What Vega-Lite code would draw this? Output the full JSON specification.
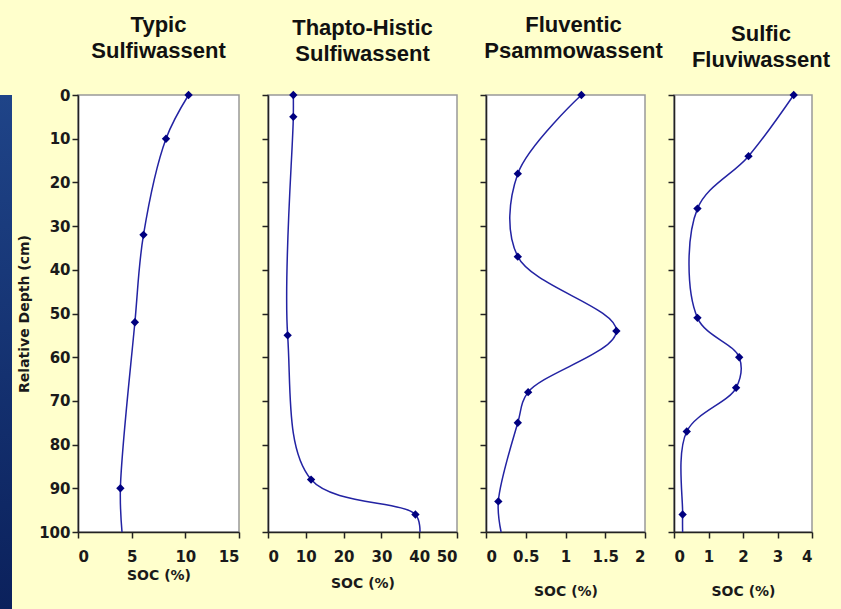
{
  "$schema": "https://vega.github.io/schema/vega-lite/v6.json",
  "background": "#FFFFCC",
  "padding": {"left": 0, "top": 13, "right": 11, "bottom": 0},
  "config": {
    "font": "Liberation Sans",
    "axis": {
      "labelFont": "DejaVu Sans",
      "labelFontWeight": "bold",
      "labelFontSize": 15,
      "labelColor": "#1a1a1a",
      "titleFont": "DejaVu Sans",
      "titleFontWeight": "bold",
      "titleFontSize": 14,
      "titleColor": "#1a1a1a",
      "domainColor": "#222222",
      "domainWidth": 1.6,
      "tickColor": "#222222",
      "tickWidth": 1.5,
      "tickSize": 6,
      "grid": false
    },
    "axisX": {"labelPadding": 11},
    "axisY": {"labelPadding": 2},
    "title": {"font": "Liberation Sans", "fontSize": 22, "fontWeight": "bold", "color": "#111111", "lineHeight": 26, "anchor": "middle", "frame": "group", "offset": 25}
  },
  "datasets": {
    "profiles": [
      {"soil": "Typic Sulfiwassent", "depth": 0, "soc": 10.3, "measured": true},
      {"soil": "Typic Sulfiwassent", "depth": 10, "soc": 8.2, "measured": true},
      {"soil": "Typic Sulfiwassent", "depth": 32, "soc": 6.1, "measured": true},
      {"soil": "Typic Sulfiwassent", "depth": 52, "soc": 5.3, "measured": true},
      {"soil": "Typic Sulfiwassent", "depth": 90, "soc": 3.95, "measured": true},
      {"soil": "Typic Sulfiwassent", "depth": 100, "soc": 4.1, "measured": false},
      {"soil": "Thapto-Histic Sulfiwassent", "depth": 0, "soc": 6.7, "measured": true},
      {"soil": "Thapto-Histic Sulfiwassent", "depth": 5, "soc": 6.7, "measured": true},
      {"soil": "Thapto-Histic Sulfiwassent", "depth": 55, "soc": 5.2, "measured": true},
      {"soil": "Thapto-Histic Sulfiwassent", "depth": 88, "soc": 11.4, "measured": true},
      {"soil": "Thapto-Histic Sulfiwassent", "depth": 96, "soc": 39.0, "measured": true},
      {"soil": "Thapto-Histic Sulfiwassent", "depth": 100, "soc": 40.2, "measured": false},
      {"soil": "Fluventic Psammowassent", "depth": 0, "soc": 1.2, "measured": true},
      {"soil": "Fluventic Psammowassent", "depth": 18, "soc": 0.4, "measured": true},
      {"soil": "Fluventic Psammowassent", "depth": 37, "soc": 0.4, "measured": true},
      {"soil": "Fluventic Psammowassent", "depth": 54, "soc": 1.64, "measured": true},
      {"soil": "Fluventic Psammowassent", "depth": 68, "soc": 0.53, "measured": true},
      {"soil": "Fluventic Psammowassent", "depth": 75, "soc": 0.4, "measured": true},
      {"soil": "Fluventic Psammowassent", "depth": 93, "soc": 0.155, "measured": true},
      {"soil": "Fluventic Psammowassent", "depth": 100, "soc": 0.19, "measured": false},
      {"soil": "Sulfic Fluviwassent", "depth": 0, "soc": 3.47, "measured": true},
      {"soil": "Sulfic Fluviwassent", "depth": 14, "soc": 2.16, "measured": true},
      {"soil": "Sulfic Fluviwassent", "depth": 26, "soc": 0.68, "measured": true},
      {"soil": "Sulfic Fluviwassent", "depth": 51, "soc": 0.68, "measured": true},
      {"soil": "Sulfic Fluviwassent", "depth": 60, "soc": 1.89, "measured": true},
      {"soil": "Sulfic Fluviwassent", "depth": 67, "soc": 1.8, "measured": true},
      {"soil": "Sulfic Fluviwassent", "depth": 77, "soc": 0.37, "measured": true},
      {"soil": "Sulfic Fluviwassent", "depth": 96, "soc": 0.25, "measured": true},
      {"soil": "Sulfic Fluviwassent", "depth": 100, "soc": 0.25, "measured": false}
    ],
    "edge": [{"part": "slide border"}]
  },
  "spacing": 4,
  "hconcat": [
    {
      "data": {"name": "edge"},
      "width": 12,
      "height": 514,
      "view": {"stroke": null},
      "mark": {"type": "rect", "color": {"gradient": "linear", "x1": 0, "y1": 0, "x2": 0, "y2": 1, "stops": [{"offset": 0, "color": "#1f4488"}, {"offset": 1, "color": "#0b215c"}]}},
      "encoding": {}
    },
    {
      "bounds": "flush",
      "spacing": 29,
      "hconcat": [
        {
          "width": 161,
          "height": 437,
          "title": {"text": ["Typic", "Sulfiwassent"]},
          "view": {"fill": "white", "stroke": "#999999", "strokeWidth": 1.5},
          "data": {"name": "profiles"},
          "transform": [{"filter": "datum.soil === 'Typic Sulfiwassent'"}],
          "encoding": {
            "x": {"field": "soc", "type": "quantitative", "scale": {"domain": [0, 15], "nice": false}, "axis": {"values": [0, 5, 10, 15], "format": "~r", "title": "SOC (%)", "titlePadding": 4}},
            "y": {"field": "depth", "type": "quantitative", "scale": {"domain": [0, 100], "reverse": true, "nice": false}, "axis": {"values": [0, 10, 20, 30, 40, 50, 60, 70, 80, 90, 100], "title": "Relative Depth (cm)", "titlePadding": 7}}
          },
          "layer": [
            {"mark": {"type": "line", "interpolate": "catmull-rom", "color": "#2323a3", "strokeWidth": 1.5}, "encoding": {"order": {"field": "depth", "type": "quantitative"}}},
            {"transform": [{"filter": "datum.measured"}], "mark": {"type": "point", "shape": "diamond", "filled": true, "size": 70, "color": "#000080", "opacity": 1}}
          ]
        },
        {
          "width": 189,
          "height": 437,
          "title": {"text": ["Thapto-Histic", "Sulfiwassent"]},
          "view": {"fill": "white", "stroke": "#999999", "strokeWidth": 1.5},
          "data": {"name": "profiles"},
          "transform": [{"filter": "datum.soil === 'Thapto-Histic Sulfiwassent'"}],
          "encoding": {
            "x": {"field": "soc", "type": "quantitative", "scale": {"domain": [0, 50], "nice": false}, "axis": {"values": [0, 10, 20, 30, 40, 50], "format": "~r", "title": "SOC (%)", "titlePadding": 12}},
            "y": {"field": "depth", "type": "quantitative", "scale": {"domain": [0, 100], "reverse": true, "nice": false}, "axis": {"values": [0, 10, 20, 30, 40, 50, 60, 70, 80, 90, 100], "labels": false, "title": null}}
          },
          "layer": [
            {"mark": {"type": "line", "interpolate": "catmull-rom", "color": "#2323a3", "strokeWidth": 1.5}, "encoding": {"order": {"field": "depth", "type": "quantitative"}}},
            {"transform": [{"filter": "datum.measured"}], "mark": {"type": "point", "shape": "diamond", "filled": true, "size": 70, "color": "#000080", "opacity": 1}}
          ]
        },
        {
          "width": 159,
          "height": 437,
          "title": {"text": ["Fluventic", "Psammowassent"], "dx": 8, "offset": 28},
          "view": {"fill": "white", "stroke": "#999999", "strokeWidth": 1.5},
          "data": {"name": "profiles"},
          "transform": [{"filter": "datum.soil === 'Fluventic Psammowassent'"}],
          "encoding": {
            "x": {"field": "soc", "type": "quantitative", "scale": {"domain": [0, 2], "nice": false}, "axis": {"values": [0, 0.5, 1, 1.5, 2], "format": "~r", "title": "SOC (%)", "titlePadding": 20}},
            "y": {"field": "depth", "type": "quantitative", "scale": {"domain": [0, 100], "reverse": true, "nice": false}, "axis": {"values": [0, 10, 20, 30, 40, 50, 60, 70, 80, 90, 100], "labels": false, "title": null}}
          },
          "layer": [
            {"mark": {"type": "line", "interpolate": "catmull-rom", "color": "#2323a3", "strokeWidth": 1.5}, "encoding": {"order": {"field": "depth", "type": "quantitative"}}},
            {"transform": [{"filter": "datum.measured"}], "mark": {"type": "point", "shape": "diamond", "filled": true, "size": 70, "color": "#000080", "opacity": 1}}
          ]
        },
        {
          "width": 138,
          "height": 437,
          "title": {"text": ["Sulfic", "Fluviwassent"], "dx": 18, "offset": 19},
          "view": {"fill": "white", "stroke": "#999999", "strokeWidth": 1.5},
          "data": {"name": "profiles"},
          "transform": [{"filter": "datum.soil === 'Sulfic Fluviwassent'"}],
          "encoding": {
            "x": {"field": "soc", "type": "quantitative", "scale": {"domain": [0, 4], "nice": false}, "axis": {"values": [0, 1, 2, 3, 4], "format": "~r", "title": "SOC (%)", "titlePadding": 20}},
            "y": {"field": "depth", "type": "quantitative", "scale": {"domain": [0, 100], "reverse": true, "nice": false}, "axis": {"values": [0, 10, 20, 30, 40, 50, 60, 70, 80, 90, 100], "labels": false, "title": null}}
          },
          "layer": [
            {"mark": {"type": "line", "interpolate": "catmull-rom", "color": "#2323a3", "strokeWidth": 1.5}, "encoding": {"order": {"field": "depth", "type": "quantitative"}}},
            {"transform": [{"filter": "datum.measured"}], "mark": {"type": "point", "shape": "diamond", "filled": true, "size": 70, "color": "#000080", "opacity": 1}}
          ]
        }
      ]
    }
  ]
}
